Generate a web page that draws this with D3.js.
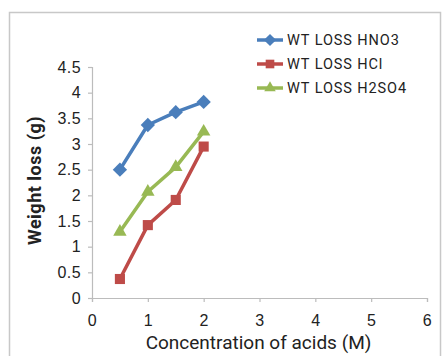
<!DOCTYPE html>
<html>
<head>
<meta charset="utf-8">
<script src="https://cdn.jsdelivr.net/npm/d3@7"></script>
<style>
  body { margin: 0; background: #fff; }
  svg { font-family: Roboto, "Liberation Sans", sans-serif; }
</style>
</head>
<body>
<div id="chart"></div>
<script>
// data
const concentrations = [0.5, 1, 1.5, 2];
const hno3 = [2.5, 3.37, 3.62, 3.82];
const hcl = [0.37, 1.42, 1.91, 2.95];
const h2so4 = [1.29, 2.07, 2.55, 3.24];
const seriesNames = ["WT LOSS HNO3", "WT LOSS HCl", "WT LOSS H2SO4"];
const xTicks = [0, 1, 2, 3, 4, 5, 6];
const yTicks = [0, 0.5, 1, 1.5, 2, 2.5, 3, 3.5, 4, 4.5];

const width = 444, height = 356;
const margin = {top: 67, right: 17, bottom: 58, left: 92};

const colors = ["#4a7ebb", "#be4b48", "#98b954"];
const symbols = [d3.symbolDiamond2, d3.symbolSquare2, d3.symbolTriangle2];

const svg = d3.select("#chart").append("svg")
  .attr("width", width)
  .attr("height", height);

// chart frame
svg.append("rect")
  .attr("x", 9.5).attr("y", 12.5)
  .attr("width", 431).attr("height", 360)
  .attr("fill", "none").attr("stroke", "#c8c8c8").attr("stroke-width", 1.5);

const x = d3.scaleLinear().domain([0, 6]).range([margin.left, width - margin.right]);
const y = d3.scaleLinear().domain([0, 4.5]).range([height - margin.bottom, margin.top]);

const xAxis = svg.append("g")
  .attr("transform", `translate(0,${y(0)})`)
  .call(d3.axisBottom(x).tickValues(xTicks).tickSize(4).tickPadding(13).tickFormat(d3.format("d")));
const yAxis = svg.append("g")
  .attr("transform", `translate(${x(0)},0)`)
  .call(d3.axisLeft(y).tickValues(yTicks).tickSize(4).tickPadding(7).tickFormat(d => d));

[xAxis, yAxis].forEach(g => {
  g.selectAll("path, line").attr("stroke", "#bcbcbc").attr("stroke-width", 1.2);
  g.selectAll("text").attr("fill", "#222").attr("font-size", 16).attr("letter-spacing", 0.4);
});

svg.append("text")
  .attr("x", (x(0) + x(6)) / 2 - 1).attr("y", 349)
  .attr("text-anchor", "middle")
  .attr("font-size", 19).attr("fill", "#222")
  .attr("letter-spacing", 0)
  .text("Concentration of acids (M)");

svg.append("text")
  .attr("transform", `translate(41,${(y(0) + y(4.5)) / 2 - 2}) rotate(-90)`)
  .attr("text-anchor", "middle")
  .attr("font-size", 18).attr("font-weight", "bold").attr("fill", "#222")
  .attr("letter-spacing", 0.5)
  .text("Weight loss (g)");

const allSeries = [hno3, hcl, h2so4];
const line = d3.line()
  .x((d, i) => x(concentrations[i]))
  .y(d => y(d));

allSeries.forEach((vals, s) => {
  svg.append("path")
    .attr("d", line(vals))
    .attr("fill", "none")
    .attr("stroke", colors[s])
    .attr("stroke-width", 3.5)
    .attr("stroke-linejoin", "round");
  svg.append("g").selectAll("path")
    .data(vals)
    .join("path")
    .attr("transform", (d, i) => `translate(${x(concentrations[i])},${y(d)})`)
    .attr("d", d3.symbol().type(symbols[s]).size(130))
    .attr("fill", colors[s]);
});

// legend
const legendRows = [40, 64, 88];
seriesNames.forEach((name, s) => {
  const g = svg.append("g").attr("transform", `translate(257,${legendRows[s]})`);
  g.append("line")
    .attr("x1", 0).attr("x2", 26)
    .attr("stroke", colors[s]).attr("stroke-width", 3.5);
  g.append("path")
    .attr("transform", "translate(13,0)")
    .attr("d", d3.symbol().type(symbols[s]).size(95))
    .attr("fill", colors[s]);
  g.append("text")
    .attr("x", 30).attr("dy", "0.36em")
    .attr("font-size", 14.5).attr("fill", "#222")
    .attr("letter-spacing", 0.9)
    .text(name);
});
</script>
</body>
</html>
